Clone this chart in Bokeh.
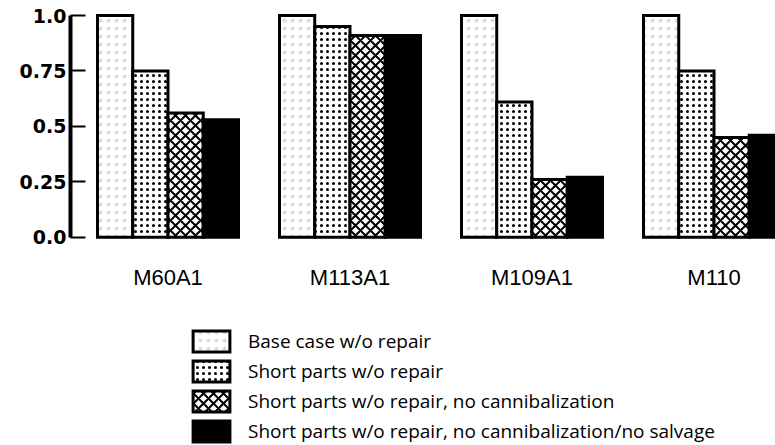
from bokeh.plotting import figure
from bokeh.models import FixedTicker
from bokeh.core.properties import value
from bokeh.embed import file_html
from bokeh.resources import INLINE

# ---- data ----
vehicles = ["M60A1", "M113A1", "M109A1", "M110"]
series_names = [
    "Base case w/o repair",
    "Short parts w/o repair",
    "Short parts w/o repair, no cannibalization",
    "Short parts w/o repair, no cannibalization/no salvage",
]
base_case = [1.0, 1.0, 1.0, 1.0]
short_parts = [0.75, 0.95, 0.61, 0.75]
no_cannibal = [0.56, 0.91, 0.26, 0.45]
no_salvage = [0.53, 0.91, 0.27, 0.46]
y_ticks = [0.0, 0.25, 0.5, 0.75, 1.0]
y_tick_labels = ["0.0", "0.25", "0.5", "0.75", "1.0"]

series_values = [base_case, short_parts, no_cannibal, no_salvage]

# ---- styles ----
styles = [
    dict(fill_color="white", hatch_pattern=".", hatch_scale=8, hatch_weight=0.5,
         hatch_color="#888888", hatch_alpha=0.3),
    dict(fill_color="white", hatch_pattern=".", hatch_scale=6, hatch_weight=1.2,
         hatch_color="black"),
    dict(fill_color="white", hatch_pattern="x", hatch_scale=10, hatch_weight=2.0,
         hatch_color="black"),
    dict(fill_color="black"),
]

bar_w = 0.1937

p = figure(width=775, height=445,
           x_range=(-0.5357, 3.3379), y_range=(-0.9396, 1.0677),
           output_backend="svg", toolbar_location=None,
           x_axis_location=None,
           min_border_left=70, min_border_right=0,
           min_border_top=0, min_border_bottom=0)

p.outline_line_color = None
p.grid.visible = False
p.background_fill_color = "white"
p.border_fill_color = "white"

for j, (name, vals, st) in enumerate(zip(series_names, series_values, styles)):
    xs = [i + (j - 1.5) * bar_w for i in range(len(vehicles))]
    p.vbar(x=xs, top=vals, bottom=0, width=bar_w,
           line_color="black", line_width=3, line_join="miter",
           legend_label=name, **st)

p.text(x=list(range(len(vehicles))), y=[-0.1818] * len(vehicles), text=vehicles,
       text_align="center", text_baseline="alphabetic",
       text_font=value("Liberation Sans"), text_font_size="22px",
       text_color="black")

ax = p.yaxis[0]
ax.ticker = FixedTicker(ticks=y_ticks)
ax.major_label_overrides = {t: lab for t, lab in zip(y_ticks, y_tick_labels)}
ax.bounds = (0, 1)
ax.axis_line_width = 4
ax.axis_line_color = "black"
ax.major_tick_in = 15
ax.major_tick_out = 0
ax.major_tick_line_width = 2
ax.major_tick_line_color = "black"
ax.minor_tick_line_color = None
ax.major_label_standoff = 4
ax.major_label_text_font = "DejaVu Sans"
ax.major_label_text_font_style = "bold"
ax.major_label_text_font_size = "19px"
ax.major_label_text_color = "black"

lg = p.legend[0]
lg.location = (118, 1)
lg.padding = 0
lg.margin = 0
lg.border_line_color = None
lg.background_fill_alpha = 0
lg.glyph_width = 46
lg.glyph_height = 26
lg.label_height = 26
lg.spacing = 4
lg.label_standoff = 14
lg.label_text_font = "Open Sans"
lg.label_text_font_size = "19px"
lg.label_text_color = "black"

open("out.html", "w").write(file_html(p, INLINE))
